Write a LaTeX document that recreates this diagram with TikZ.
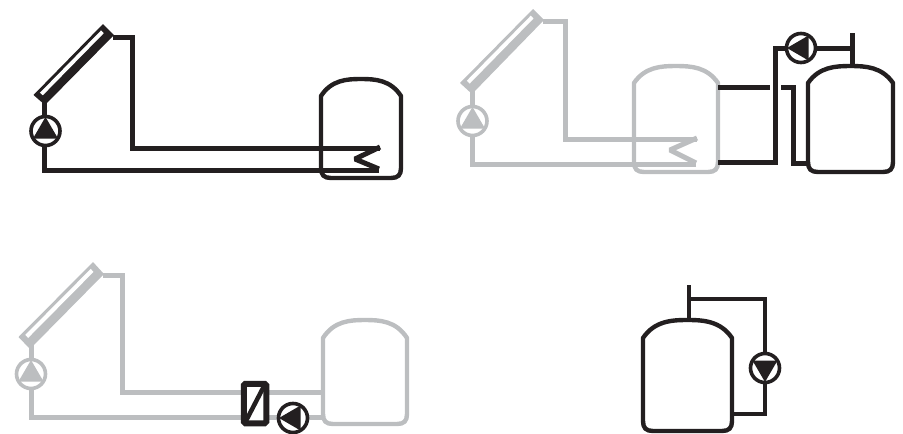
\documentclass[tikz,border=0pt]{standalone}
\usetikzlibrary{calc}
\definecolor{ink}{HTML}{231F20}
\definecolor{ash}{HTML}{BCBEC0}
\tikzset{
  pipe/.style={line width=5pt,line join=bevel,line cap=butt},
  pumpnode/.style={circle,line width=3.6pt,fill=white,minimum size=29pt,inner sep=0pt},
  tankline/.style={line width=4.4pt,line join=round}
}
% collector: #1 name, #2 colour, #3 top, #4 right, #5 lower, #6 left corner
\newcommand{\collector}[6]{
  \coordinate (#1T) at (#3); \coordinate (#1R) at (#4);
  \coordinate (#1B) at (#5); \coordinate (#1L) at (#6);
  \fill[#2] (#1T) -- (#1R) -- (#1B) -- (#1L) -- cycle;
  \fill[white]
    ($(#1L)!0.06!(#1T)!0.20!($(#1B)!0.06!(#1R)$)$) --
    ($(#1L)!0.94!(#1T)!0.20!($(#1B)!0.94!(#1R)$)$) --
    ($(#1L)!0.94!(#1T)!0.45!($(#1B)!0.94!(#1R)$)$) --
    ($(#1L)!0.06!(#1T)!0.45!($(#1B)!0.06!(#1R)$)$) -- cycle;
}
% pump triangle: #1 pump node, #2 colour, #3 rotation
\newcommand{\pumptri}[3]{
  \fill[#2,shift={(#1)},rotate=#3] (0,-14) -- (12.5,7.5) -- (-12.5,7.5) -- cycle;
}
% tank: #1 colour, #2 left, #3 right, #4 top, #5 shoulder, #6 bottom
\newcommand{\tank}[6]{
  \pgfmathsetmacro{\tw}{#3-#2}
  \draw[tankline,#1]
    (#2,#5) .. controls ({#2+0.13*\tw},{#4+1}) and ({#2+0.32*\tw},#4) .. ({#2+0.5*\tw},#4)
    .. controls ({#3-0.32*\tw},#4) and ({#3-0.13*\tw},{#4+1}) .. (#3,#5)
    -- (#3,{#6-10}) .. controls (#3,{#6-3}) and ({#3-3},#6) .. ({#3-10},#6)
    -- ({#2+10},#6) .. controls ({#2+3},#6) and (#2,{#6-3}) .. (#2,{#6-10}) -- cycle;
}
\begin{document}
\begin{tikzpicture}[x=1pt,y=-1pt]
\useasboundingbox (0,0) rectangle (903,434);

% ---------- panel A
\tank{ink}{321}{401}{79}{96}{178}
\draw[pipe,ink,line join=miter] (113,37) -- (132,37) -- (132,148) -- (380,148);
\draw[pipe,ink] (380,147) -- (355,159) -- (379,169);
\draw[pipe,ink,line join=miter] (379,170) -- (44,170) -- (44,100);
\collector{a}{ink}{103,24}{114,35}{45,105}{33.5,95}
\node[pumpnode,draw=ink] (pa) at (45.5,131) {};
\pumptri{pa}{ink}{0}

% ---------- panel B
\tank{ash}{634}{718}{66}{83}{172}
\draw[pipe,ash,line join=miter] (543,21) -- (565,21) -- (565,139) -- (697,139);
\draw[pipe,ash] (697,138) -- (670,150) -- (696,163);
\draw[pipe,ash,line join=miter] (696,164) -- (472,164) -- (472,90);
\collector{b}{ash}{533,9}{544,20}{472,94}{460,83}
\node[pumpnode,draw=ash] (pb) at (472.5,121) {};
\pumptri{pb}{ash}{0}
\tank{ink}{808}{893}{66}{83}{172}
\node[pumpnode,draw=ink] (pc) at (801,48) {};
\pumptri{pc}{ink}{90}
\draw[pipe,ink,line join=miter] (pc.west) -- (775,48) -- (775,162) -- (718,162);
\draw[pipe,ink] (718,87) -- (770,87);
\draw[pipe,ink,line join=miter] (781,87) -- (793,87) -- (793,163) -- (808,163);
\draw[pipe,ink] (pc.east) -- (852,48);
\draw[pipe,ink] (852,33) -- (852,65);

% ---------- panel C
\tank{ash}{323}{407}{320}{338}{424}
\draw[pipe,ash,line join=miter] (103,275) -- (122,275) -- (122,392) -- (322,392);
\draw[pipe,ash,line join=miter] (322,417) -- (31,417) -- (31,340);
\collector{c}{ash}{93,262}{104,274}{30,349}{18.5,337}
\node[pumpnode,draw=ash] (pd) at (31,374) {};
\pumptri{pd}{ash}{0}
\node[draw=ink,fill=white,line width=6pt,rounded corners=1.5pt,minimum width=22.5pt,minimum height=39.5pt,inner sep=0pt] (hx) at (255,403.5) {};
\draw[ink,line width=4.5pt] ($(hx.south west)+(4,-3)$) -- ($(hx.north east)+(-4,3)$);
\node[pumpnode,draw=ink] (pe) at (293,418) {};
\pumptri{pe}{ink}{90}

% ---------- panel D
\tank{ink}{643}{732}{320}{338}{431}
\node[pumpnode,draw=ink] (pf) at (765,368) {};
\pumptri{pf}{ink}{180}
\draw[line width=4.2pt,ink] (689,285) -- (689,320);
\draw[line width=4.2pt,ink,line join=miter] (689,299) -- (765,299) -- (pf.north);
\draw[line width=4.2pt,ink,line join=miter] (pf.south) -- (765,414) -- (732,414);
\end{tikzpicture}
\end{document}
